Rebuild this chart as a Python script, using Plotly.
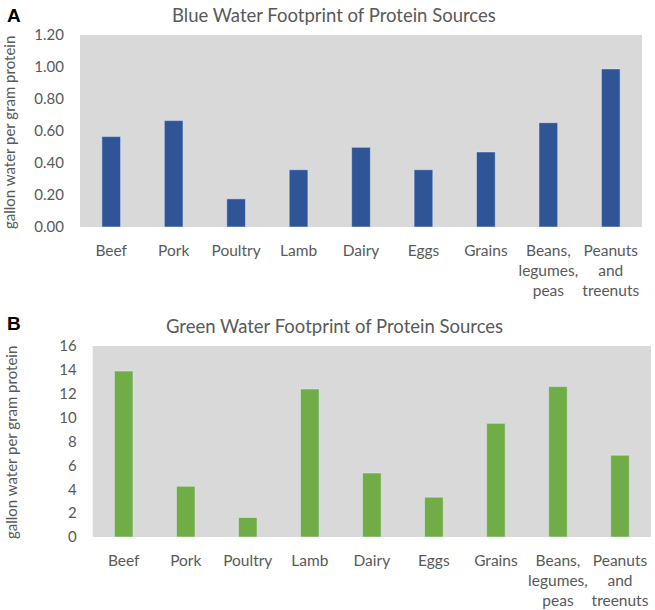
import plotly.graph_objects as go

categories = ["Beef", "Pork", "Poultry", "Lamb", "Dairy", "Eggs", "Grains",
              "Beans,<br>legumes,<br>peas", "Peanuts<br>and<br>treenuts"]
blue_values = [0.565, 0.665, 0.176, 0.358, 0.498, 0.358, 0.469, 0.652, 0.988]
green_values = [13.9, 4.25, 1.63, 12.4, 5.36, 3.34, 9.52, 12.6, 6.85]
title_a = "Blue Water Footprint of Protein Sources"
title_b = "Green Water Footprint of Protein Sources"
y_title = "gallon water per gram protein"

W, H = 655, 610
FONT = "Lato"
GREY_TXT = "#595959"

fig = go.Figure()
fig.add_trace(go.Bar(x=categories, y=blue_values, marker_color="#2F5597",
                     width=0.3, xaxis="x", yaxis="y", showlegend=False))
fig.add_trace(go.Bar(x=categories, y=green_values, marker_color="#70AD47",
                     width=0.3, xaxis="x2", yaxis="y2", showlegend=False))

def px_x(v):
    return v / W

def px_y(v):
    return 1 - v / H

xcommon = dict(showgrid=False, zeroline=False, showline=False, ticks="",
               tickfont=dict(family=FONT, size=15.5, color=GREY_TXT),
               ticklabelstandoff=12, tickangle=0, automargin=False)
ycommon = dict(showgrid=False, zeroline=False, showline=False, ticks="",
               tickfont=dict(family=FONT, size=15, color=GREY_TXT),
               ticklabelstandoff=15, automargin=False)

fig.update_layout(
    width=W, height=H,
    autosize=False,
    margin=dict(l=0, r=0, t=0, b=0, pad=0),
    paper_bgcolor="white",
    plot_bgcolor="#D9D9D9",
    xaxis=dict(domain=[px_x(80), px_x(642)], anchor="y", **xcommon),
    yaxis=dict(domain=[px_y(227), px_y(35)], anchor="x", range=[0, 1.2],
               dtick=0.2, tickformat=".2f", **ycommon),
    xaxis2=dict(domain=[px_x(92.7), px_x(651)], anchor="y2", **xcommon),
    yaxis2=dict(domain=[px_y(537), px_y(346)], anchor="x2", range=[0, 16],
                dtick=2, **ycommon),
)

annotations = [
    dict(text=title_a, x=px_x(334), y=px_y(15), xref="paper", yref="paper",
         showarrow=False, font=dict(family=FONT, size=18.5, color=GREY_TXT),
         xanchor="center", yanchor="middle"),
    dict(text=title_b, x=px_x(334), y=px_y(326), xref="paper", yref="paper",
         showarrow=False, font=dict(family=FONT, size=18.5, color=GREY_TXT),
         xanchor="center", yanchor="middle"),
    dict(text="<b>A</b>", x=px_x(5), y=px_y(15), xref="paper", yref="paper",
         showarrow=False, font=dict(family="Liberation Sans", size=19, color="black"),
         xanchor="left", yanchor="middle"),
    dict(text="<b>B</b>", x=px_x(5), y=px_y(323), xref="paper", yref="paper",
         showarrow=False, font=dict(family="Liberation Sans", size=19, color="black"),
         xanchor="left", yanchor="middle"),
    dict(text=y_title, x=px_x(9), y=px_y(133), xref="paper", yref="paper",
         showarrow=False, textangle=-90,
         font=dict(family=FONT, size=15, color=GREY_TXT),
         xanchor="center", yanchor="middle"),
    dict(text=y_title, x=px_x(11), y=px_y(443), xref="paper", yref="paper",
         showarrow=False, textangle=-90,
         font=dict(family=FONT, size=15, color=GREY_TXT),
         xanchor="center", yanchor="middle"),
]
fig.update_layout(annotations=annotations)

fig.write_html("out.html",
               config={"displayModeBar": False},
               post_script="document.body.style.margin='0';document.body.style.overflow='hidden';")
